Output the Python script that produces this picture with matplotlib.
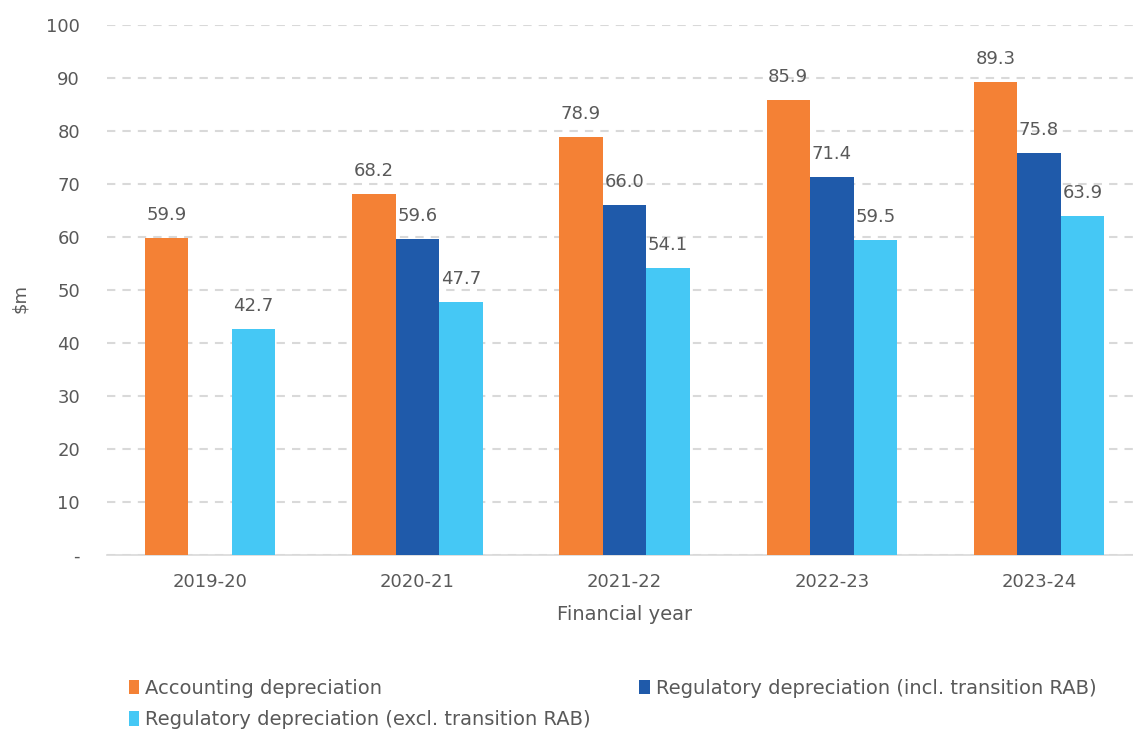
import numpy as np
import matplotlib
matplotlib.use("Agg")
import matplotlib.pyplot as plt
from matplotlib.patches import Patch

years = ["2019-20", "2020-21", "2021-22", "2022-23", "2023-24"]
accounting = [59.9, 68.2, 78.9, 85.9, 89.3]
reg_incl = [np.nan, 59.6, 66.0, 71.4, 75.8]
reg_excl = [42.7, 47.7, 54.1, 59.5, 63.9]

series_names = [
    "Accounting depreciation",
    "Regulatory depreciation (incl. transition RAB)",
    "Regulatory depreciation (excl. transition RAB)",
]
colors = ["#F48135", "#1F5AAA", "#45C8F5"]
text_color = "#595959"
grid_color = "#D9D9D9"

plt.rcParams["font.family"] = ["DejaVu Sans"]

fig = plt.figure(figsize=(11.33, 7.29), dpi=100)
ax = fig.add_axes([0.0940, 0.2387, 0.9145, 0.727])

x = np.arange(len(years))
width = 0.21
offsets = [-width, 0.0, width]

for vals, off, col in zip([accounting, reg_incl, reg_excl], offsets, colors):
    v = np.array(vals, dtype=float)
    ax.bar(x + off, v, width=width, color=col, zorder=3)
    for xi, yi in zip(x + off, v):
        if not np.isnan(yi):
            ax.annotate(f"{yi:.1f}", (xi, yi), xytext=(0, 10), textcoords="offset points",
                        ha="center", va="bottom", fontsize=13, color=text_color)

ax.set_xlim(-0.5, len(years) - 0.5)
ax.set_ylim(0, 100)
ax.set_yticks(np.arange(0, 101, 10))
ax.set_yticklabels(["-"] + [str(v) for v in range(10, 101, 10)])
ax.set_xticks(x)
ax.set_xticklabels(years)
ax.tick_params(axis="both", length=0, labelsize=13, colors=text_color)
ax.tick_params(axis="x", pad=13)
ax.tick_params(axis="y", pad=19)

ax.yaxis.grid(True, color=grid_color, linestyle=(0, (4, 3.4)), linewidth=1.5, zorder=0)
ax.set_axisbelow(True)
for s in ["top", "right", "left"]:
    ax.spines[s].set_visible(False)
ax.spines["bottom"].set_color(grid_color)
ax.spines["bottom"].set_linewidth(1.2)

ax.set_xlabel("Financial year", fontsize=14, color=text_color, labelpad=10)
fig.text(0.018, 0.59, "$m", rotation=90, fontsize=13, color=text_color, ha="center", va="center")

# legend filled row by row: two entries on the first line, one on the second
handles = [Patch(facecolor=c) for c in colors]
order = [0, 2, 1]
fig.legend([handles[i] for i in order], [series_names[i] for i in order],
           loc="upper left", bbox_to_anchor=(0.098, 0.093),
           ncol=2, frameon=False, fontsize=14, handlelength=0.55, handleheight=0.75,
           handletextpad=0.3, columnspacing=2.5, labelspacing=0.65,
           labelcolor=text_color)

fig.savefig("out.png", dpi=100)
